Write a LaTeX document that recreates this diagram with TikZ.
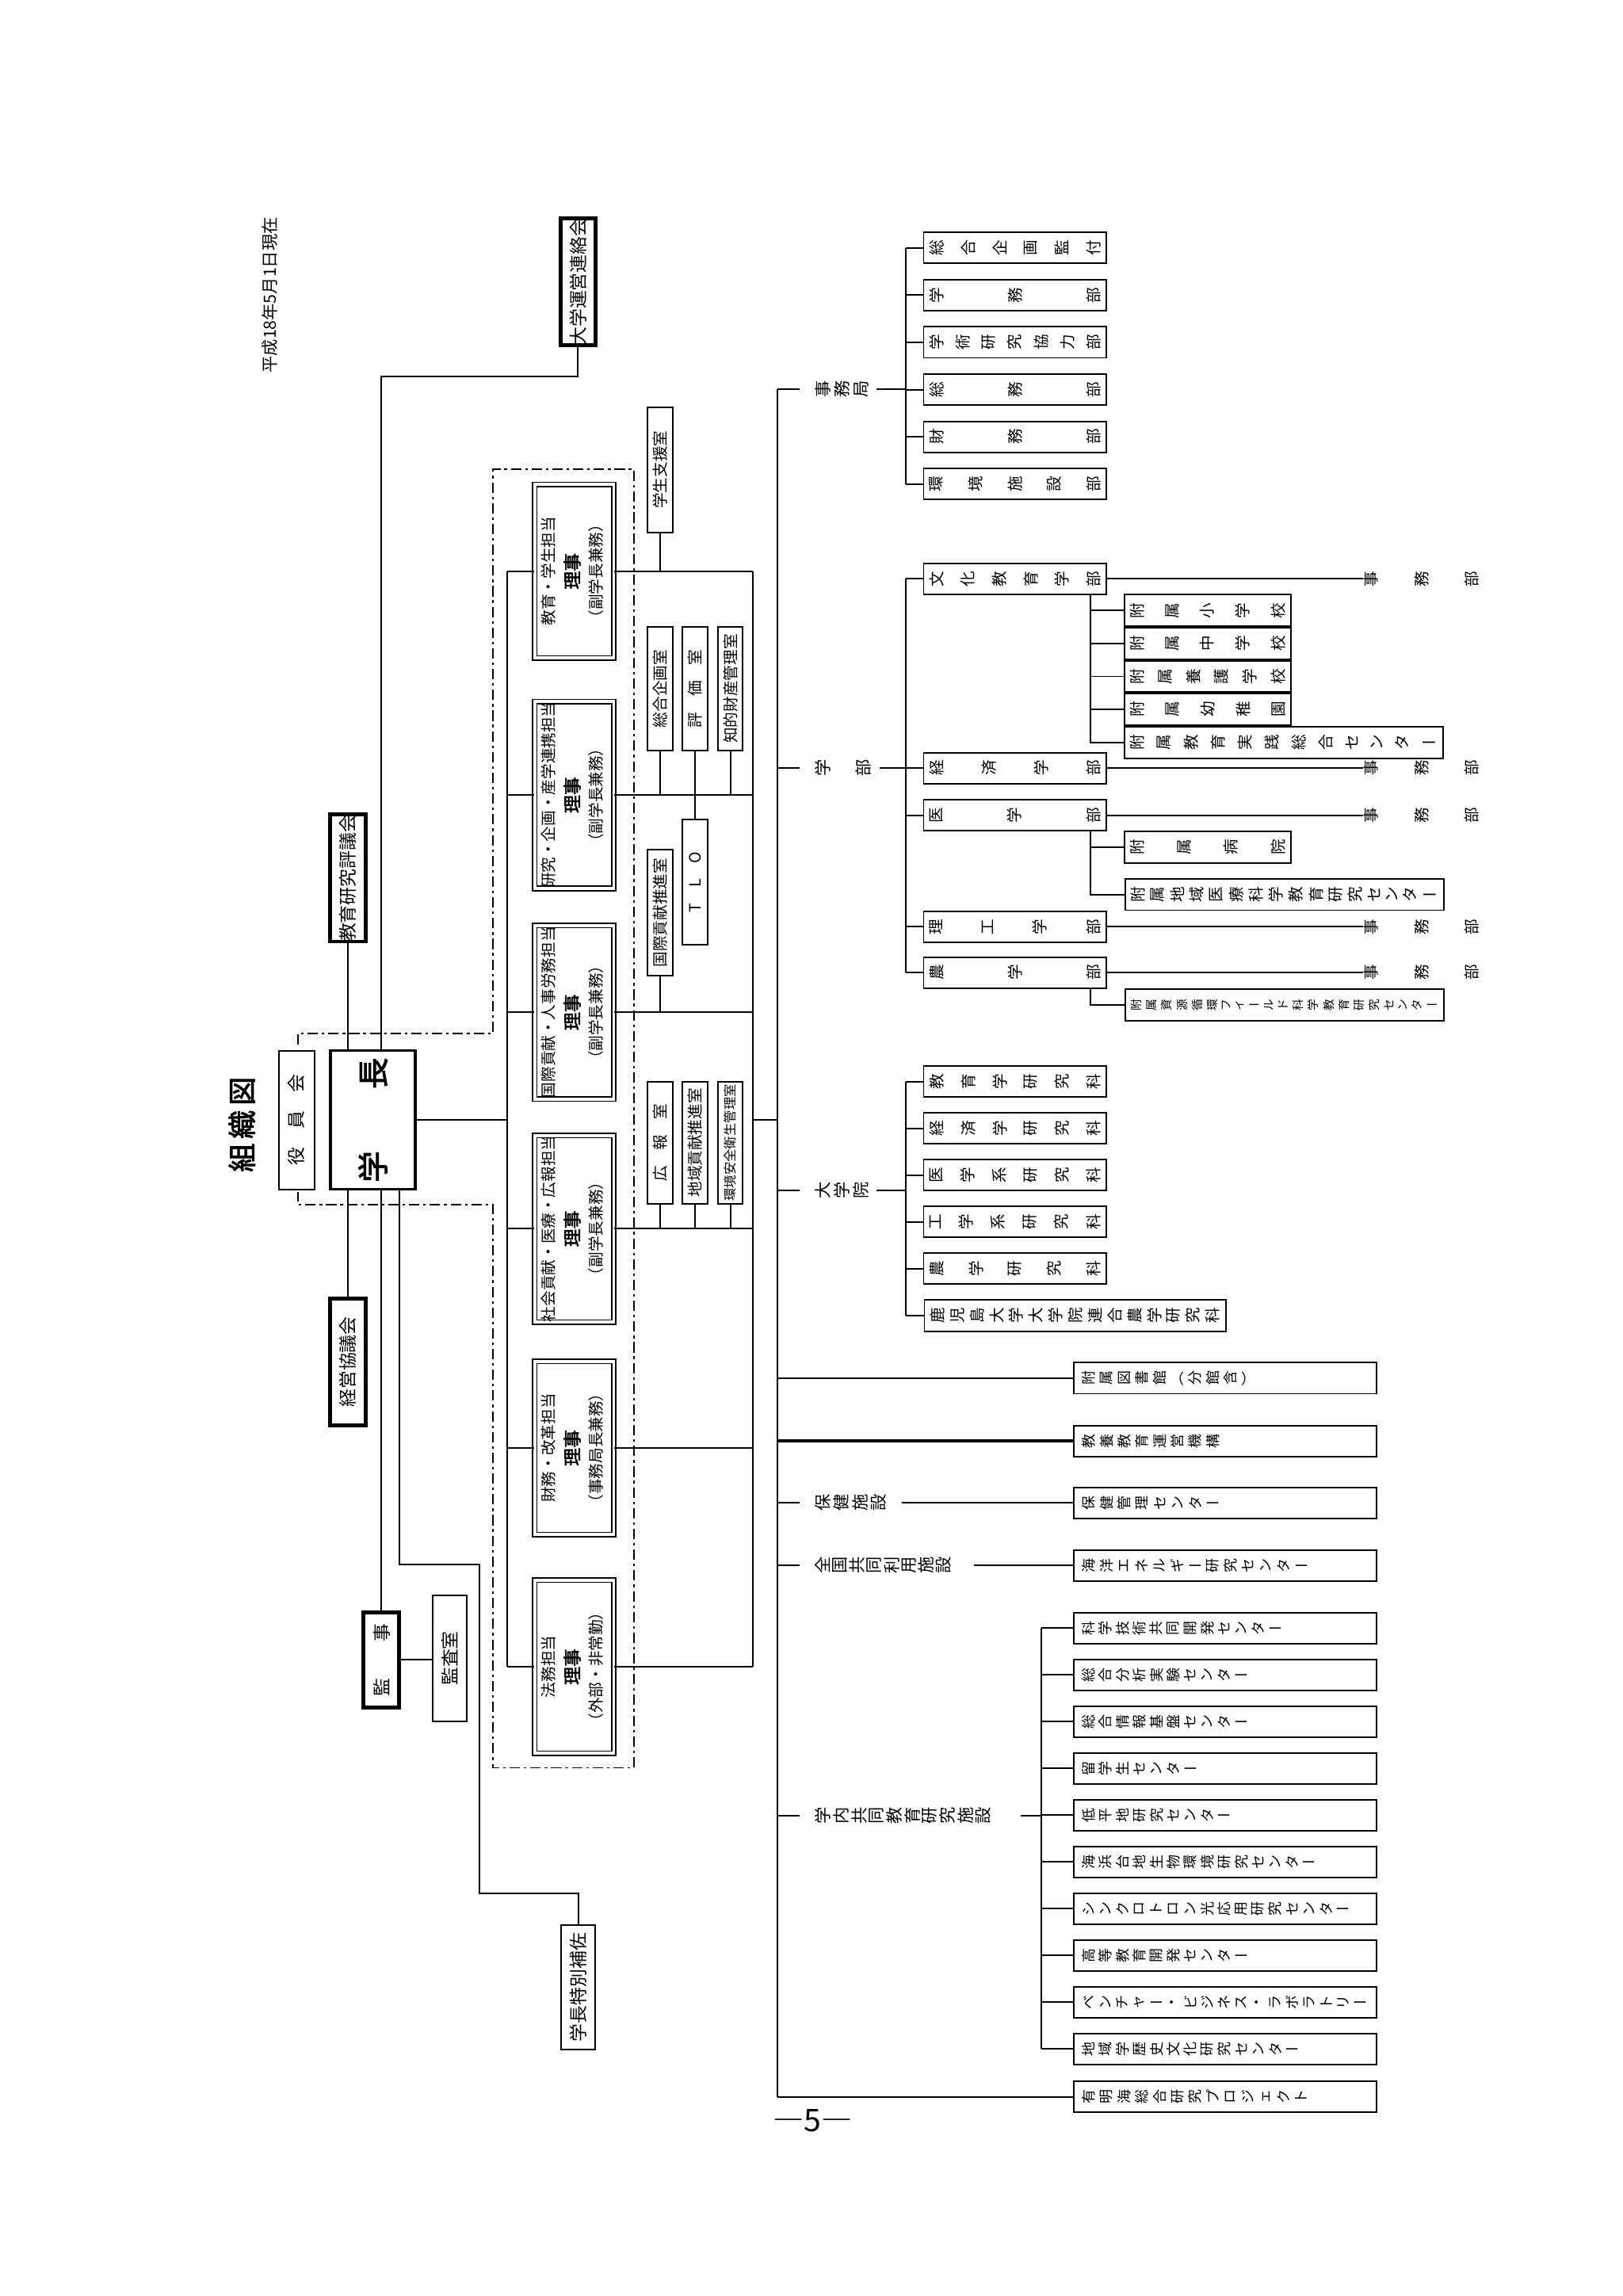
\documentclass[tikz,border=0pt]{standalone}
\usepackage{fontspec}
\setmainfont{Noto Sans CJK JP}[AutoFakeBold=2.5]
\usepackage{graphicx}
\usetikzlibrary{positioning}

\newdimen\unitl \unitl=0.2mm
\newdimen\pitw
% vertical characters, turned with the page
\def\rt#1{\ifx#1ー\raisebox{.1em}{#1}\else\ifx#1（\raisebox{.1em}{#1}\else\ifx#1）\raisebox{.1em}{#1}\else\rotatebox{90}{#1}\fi\fi\fi}
\def\sprA#1{\ifx#1\relax\else\rt{#1}\expandafter\sprB\fi}
\def\sprB#1{\ifx#1\relax\else\hfill\rt{#1}\expandafter\sprB\fi}
\newcommand\spr[2]{\hbox to #1\unitl{\expandafter\sprA#2\relax}}
\def\pitA#1{\ifx#1\relax\else\hbox to\pitw{\hss\rt{#1}\hss}\expandafter\pitA\fi}
\newcommand\pit[3]{\pitw=#2\unitl\hbox to #1\unitl{\expandafter\pitA#3\relax\hfill}}
\newcommand\rj[3]{\rotatebox{90}{\begin{tabular}{@{}c@{}}#1\\[1.5pt]{\fontsize{7}{8}\selectfont\bfseries #2}\\[1.5pt]#3\end{tabular}}}

\tikzset{
  estilo org/.style={
      x=0.2mm, y=-0.2mm, line width=0.6pt,
      every node/.style={inner sep=0pt, font={\fontsize{6}{7}\selectfont}},
    },
  caja/.style={draw, line width=0.6pt},
  gruesa/.style={draw, line width=1.5pt},
  riji/.style={draw, double, line width=0.5pt, double distance=1.2pt},
  tam/.style 2 args={minimum width=#1*0.2mm, minimum height=#2*0.2mm},
  corta/.style={caja, tam={124}{21}},
  sub/.style={caja, tam={113}{21.3}},
  larga/.style={caja, tam={216}{21.3}},
  shisetsu/.style={caja, tam={205}{21}},
  marco/.style={dash pattern=on 4pt off 1.5pt on 1pt off 1.5pt},
}

\begin{document}
\begin{tikzpicture}[estilo org]
\useasboundingbox (0,0) rectangle (1100,1556);

\node (titulo) at (164,762) {\fontsize{11}{12}\selectfont\bfseries\rotatebox{90}{組\,織\,図}};
\node (fecha) at (183,200) {\fontsize{6.5}{7}\selectfont\rotatebox{90}{平成18年5月1日現在}};

% left part
\node[gruesa, tam={23.5}{86}] (unei) at (391.75,191) {\fontsize{7}{8}\selectfont\rotatebox{90}{大学運営連絡会}};
\node[gruesa, tam={24.1}{86}] (hyogi) at (235.65,595) {\fontsize{7}{8}\selectfont\rotatebox{90}{教育研究評議会}};
\node[gruesa, tam={24.1}{86}] (keiei) at (235.65,923) {\fontsize{7}{8}\selectfont\rotatebox{90}{経営協議会}};
\node[caja, tam={24}{94}] (yakuin) at (201,759) {\fontsize{7}{8}\selectfont\rotatebox{90}{役\quad 員\quad 会}};
\node[draw, line width=1.1pt, tam={57.5}{94}] (gakucho) at (252.75,759) {\fontsize{12}{13}\selectfont\bfseries\rotatebox{90}{学\qquad 長}};
\node[gruesa, tam={24.1}{64.4}] (kanji) at (258.55,1124.8) {\fontsize{7}{8}\selectfont\rotatebox{90}{監\qquad 事}};
\node[caja, tam={23.5}{85.8}] (kansa) at (304.75,1123.9) {\fontsize{7}{8}\selectfont\rotatebox{90}{監査室}};
\node[caja, tam={23}{84}] (hosa) at (392,1346.75) {\fontsize{7}{8}\selectfont\rotatebox{90}{学長特別補佐}};
\node[caja, tam={17}{85}] (shien) at (447.5,318.35) {\rotatebox{90}{学生支援室}};

\node[riji, tam={53.6}{117.5}] (r1) at (389.2,387.1) {\rj{教育・学生担当}{理事}{（副学長兼務）}};
\node[riji, tam={53.6}{117.5}] (r2) at (389.2,538.8) {\rj{研究・企画・産学連携担当}{理事}{（副学長兼務）}};
\node[riji, tam={53.6}{117.5}] (r3) at (389.2,686) {\rj{国際貢献・人事労務担当}{理事}{（副学長兼務）}};
\node[riji, tam={53.6}{117.5}] (r4) at (389.2,832.7) {\rj{社会貢献・医療・広報担当}{理事}{（副学長兼務）}};
\node[riji, tam={53.6}{117.5}] (r5) at (389.2,981.25) {\rj{財務・改革担当}{理事}{（事務局長兼務）}};
\node[riji, tam={53.6}{117.5}] (r6) at (389.2,1129.5) {\rj{法務担当}{理事}{（外部・非常勤）}};

\node[caja, tam={17}{84}] (kikaku) at (447.5,466.7) {\rotatebox{90}{総合企画室}};
\node[caja, tam={17}{84}] (hyoka) at (471.1,466.7) {\rotatebox{90}{評\quad 価\quad 室}};
\node[caja, tam={16.4}{84}] (chizai) at (495,466.7) {\rotatebox{90}{知的財産管理室}};
\node[caja, tam={17}{85}] (tlo) at (471.1,597.85) {\rotatebox{90}{T\quad L\quad O}};
\node[caja, tam={17}{85}] (kokusai) at (447.5,618.5) {\rotatebox{90}{国際貢献推進室}};
\node[caja, tam={17}{83}] (koho) at (447.5,774.4) {\rotatebox{90}{広\quad 報\quad 室}};
\node[caja, tam={17}{83}] (chiiki) at (471.1,774.4) {\rotatebox{90}{地域貢献推進室}};
\node[caja, tam={16.4}{83}] (kankyo) at (495,774.4) {\fontsize{5}{6}\selectfont\rotatebox{90}{環境安全衛生管理室}};

\coordinate (bi) at (343.8,0);
\coordinate (bd) at (510,0);
\coordinate (m0) at (527,263.5);
\coordinate (m1) at (527,1421);
\coordinate (h0) at (270.6,806);

\draw[marco] (202,708) -- (202,700.4) -- (334,700.4) -- (334,318) -- (429.5,318) -- (429.5,1198)
  -- (334,1198) -- (334,816.3) -- (202,816.3) -- (202,808);

\draw (unei.south) -- ++(0,20) -| (kanji |- gakucho.north);
\draw (hyogi.south) -- (hyogi |- gakucho.north);
\draw (keiei.north) -- (keiei |- gakucho.south);
\draw (kanji.north) -- (kanji |- gakucho.south);
\draw (kanji.east) -- (kansa.west |- kanji.east);
\draw (h0) |- (325,1060) |- (392,1283) -- (hosa.north);

\draw (gakucho.east) -- (gakucho.east -| bi);
\draw (r1.west -| bi) -- (r6.west -| bi);
\draw (r1.east -| bd) -- (r6.east -| bd);
\foreach \i in {1,...,6} {
  \draw (r\i.west) -- (r\i.west -| bi);
  \draw (r\i.east) -- (r\i.east -| bd);
}
\draw (gakucho.east -| bd) -- (gakucho.east -| m0);
\draw (shien.south) -- (shien.south |- r1.east);
\draw (kikaku.south) -- (kikaku.south |- r2.east);
\draw (hyoka.south) -- (tlo.north);
\draw (chizai.south) -- (chizai.south |- r2.east);
\draw (kokusai.south) -- (kokusai.south |- r3.east);
\foreach \n in {koho,chiiki,kankyo} \draw (\n.south) -- (\n.south |- r4.east);

% right part
\coordinate (bk) at (614,0);
\coordinate (bs) at (739,0);
\coordinate (bg) at (705.5,0);
\coordinate (xj) at (924,0);

\begin{scope}[every node/.append style={font={\fontsize{6.5}{7}\selectfont}}]
\node[anchor=west] (l-jim) at (552,263.5) {\spr{36}{事務局}};
\node[anchor=west] (l-gak) at (552,520.5) {\spr{38}{学部}};
\node[anchor=west] (l-dai) at (552,806.8) {\spr{36}{大学院}};
\node[anchor=west] (l-hok) at (552,1018.4) {\spr{48}{保健施設}};
\node[anchor=west] (l-zen) at (552,1060.9) {\spr{92}{全国共同利用施設}};
\node[anchor=west] (l-gkn) at (552,1230.6) {\spr{119}{学内共同教育研究施設}};
\end{scope}

\draw (m0) -- (m1);
\foreach \n in {l-jim,l-gak,l-dai,l-hok,l-zen,l-gkn} \draw (\n.west -| m0) -- ++(15,0);

% 事務局
\foreach \t [count=\i] in {総合企画監付,学務部,学術研究協力部,総務部,財務部,環境施設部}
  \node[corta] (j\i) at (688,{168+(\i-1)*32}) {\spr{116}{\t}};
\draw (j1.west -| bk) -- (j6.west -| bk);
\foreach \i in {1,...,6} \draw (j\i.west) -- (j\i.west -| bk);
\draw ([xshift=1mm]l-jim.east) -- (l-jim.east -| bk);

% 学部
\node[corta] (g1) at (688,392.2) {\spr{116}{文化教育学部}};
\node[corta] (g2) at (688,520.5) {\spr{116}{経済学部}};
\node[corta] (g3) at (688,552.6) {\spr{116}{医学部}};
\node[corta] (g4) at (688,628.1) {\spr{116}{理工学部}};
\node[corta] (g5) at (688,659.1) {\spr{116}{農学部}};
\draw (g1.west -| bk) -- (g5.west -| bk);
\draw ([xshift=1mm]l-gak.east) -- (l-gak.east -| bk);
\foreach \i in {1,...,5} {
  \draw (g\i.west) -- (g\i.west -| bk);
  \node[anchor=west] (jb\i) at (g\i.east -| xj) {\spr{78}{事務部}};
  \draw (g\i.east) -- (jb\i.west);
}

\node[sub] (s1) at (818.5,413.7) {\spr{105}{附属小学校}};
\node[sub, below=0pt of s1] (s2) {\spr{105}{附属中学校}};
\node[sub, below=0pt of s2] (s3) {\spr{105}{附属養護学校}};
\node[sub, below=0pt of s3] (s4) {\spr{105}{附属幼稚園}};
\node[larga, below=0pt of s4.south west, anchor=north west] (s5) {\spr{208}{附属教育実践総合センター}};
\draw (g1.south -| bs) |- (s5.west);
\foreach \i in {1,...,4} \draw (s\i.west) -- (s\i.west -| bs);
\node[sub] (s6) at (818.5,574.1) {\spr{105}{附属病院}};
\node[larga, anchor=west] (s7) at (762,606.2) {\spr{208}{附属地域医療科学教育研究センター}};
\draw (g3.south -| bs) |- (s7.west);
\draw (s6.west) -- (s6.west -| bs);
\node[larga, anchor=west] (s8) at (762,681) {\fontsize{4.5}{5}\selectfont\spr{208}{附属資源循環フィールド科学教育研究センター}};
\draw (g5.south -| bs) |- (s8.west);

% 大学院
\foreach \t [count=\i] in {教育学研究科,経済学研究科,医学系研究科,工学系研究科,農学研究科}
  \node[corta] (d\i) at (688,{733+(\i-1)*31.7}) {\spr{116}{\t}};
\node[caja, tam={204.5}{21}, anchor=west] (d6) at (626,891.6) {\spr{196}{鹿児島大学大学院連合農学研究科}};
\draw (d1.west -| bk) -- (d6.west -| bk);
\foreach \i in {1,...,6} \draw (d\i.west) -- (d\i.west -| bk);
\draw ([xshift=1mm]l-dai.east) -- (l-dai.east -| bk);

% 施設
\begin{scope}[every node/.append style={font={\fontsize{5.5}{6}\selectfont}}]
\node[shisetsu] (f1) at (830.5,934) {\pit{197}{12}{附属図書館（分館含）}};
\node[shisetsu] (f2) at (830.5,976.5) {\pit{197}{12}{教養教育運営機構}};
\node[shisetsu] (f3) at (830.5,1018.4) {\pit{197}{12}{保健管理センター}};
\node[shisetsu] (f4) at (830.5,1060.9) {\pit{197}{12}{海洋エネルギー研究センター}};
\foreach \t [count=\i] in {科学技術共同開発センター,総合分析実験センター,総合情報基盤センター,留学生センター,低平地研究センター,海浜台地生物環境研究センター,シンクロトロン光応用研究センター,高等教育開発センター,ベンチャー・ビジネス・ラボラトリー,地域学歴史文化研究センター}
  \node[shisetsu] (c\i) at (830.5,{1103.3+(\i-1)*31.7}) {\pit{197}{11.5}{\t}};
\node[shisetsu] (f5) at (830.5,1421) {\pit{197}{12}{有明海総合研究プロジェクト}};
\end{scope}
\draw (f1.west -| m0) -- (f1.west);
\draw[line width=1pt] (f2.west -| m0) -- (f2.west);
\draw ([xshift=2mm]l-hok.east) -- (f3.west);
\draw ([xshift=3mm]l-zen.east) -- (f4.west);
\draw ([xshift=4mm]l-gkn.east) -- (l-gkn.east -| bg);
\draw (c1.west -| bg) -- (c10.west -| bg);
\foreach \i in {1,...,10} \draw (c\i.west) -- (c\i.west -| bg);
\draw (m1) -- (f5.west);

\node (pag) at (551,1437) {\fontsize{12}{12}\selectfont ―5―};
\end{tikzpicture}
\end{document}
